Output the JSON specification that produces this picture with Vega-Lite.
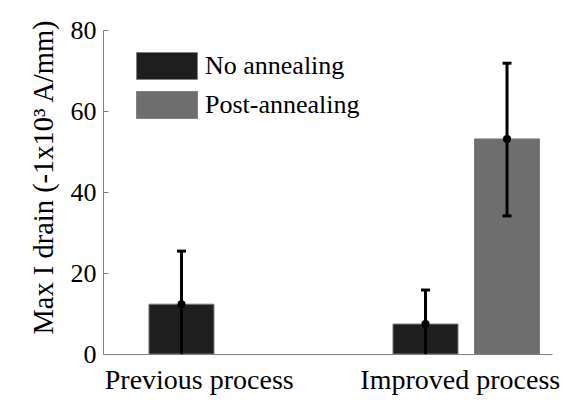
{
  "$schema": "https://vega.github.io/schema/vega-lite/v6.json",
  "width": 449,
  "height": 324,
  "autosize": "none",
  "padding": {"left": 103, "top": 30, "right": 27, "bottom": 59},
  "background": "white",
  "config": {
    "font": "Liberation Serif",
    "view": {"stroke": null},
    "axis": {"labelFont": "Liberation Serif", "titleFont": "Liberation Serif"},
    "legend": {"labelFont": "Liberation Serif", "titleFont": "Liberation Serif"}
  },
  "data": {
    "values": [
      {"process": "Previous process", "series": "No annealing", "value": 12.3, "lower": -0.8, "upper": 25.4},
      {"process": "Improved process", "series": "No annealing", "value": 7.4, "lower": -1.0, "upper": 15.8},
      {"process": "Improved process", "series": "Post-annealing", "value": 53.1, "lower": 34.1, "upper": 71.8}
    ]
  },
  "encoding": {
    "x": {
      "field": "process",
      "type": "nominal",
      "sort": ["Previous process", "Improved process"],
      "scale": {"paddingInner": 0.332, "paddingOuter": 0.086, "align": 0.899},
      "axis": {
        "title": null,
        "labelAngle": 0,
        "labelFont": "Liberation Serif",
        "labelFontSize": 28,
        "labelColor": "black",
        "labelPadding": 12,
        "labelLimit": 400,
        "ticks": false,
        "domainColor": "#808080",
        "domainWidth": 1,
        "labelOffset": {"condition": {"test": "datum.value === 'Previous process'", "value": -23}, "value": -6}
      }
    },
    "xOffset": {
      "field": "series",
      "type": "nominal",
      "scale": {"domain": ["No annealing", "Post-annealing"], "paddingInner": 0.2025, "paddingOuter": 0.101}
    }
  },
  "layer": [
    {
      "mark": {"type": "bar", "stroke": "#7a7a7a", "strokeWidth": 1},
      "encoding": {
        "y": {
          "field": "value",
          "type": "quantitative",
          "scale": {"domain": [0, 80], "nice": false},
          "axis": {
            "title": "Max I drain (-1x10³ A/mm)",
            "titleFont": "Liberation Serif",
            "titleFontSize": 28.5,
            "titleFontWeight": "normal",
            "titleColor": "black",
            "titlePadding": 12,
            "titleY": 147,
            "values": [0, 20, 40, 60, 80],
            "labelFont": "Liberation Serif",
            "labelFontSize": 26,
            "labelColor": "black",
            "labelPadding": 12,
            "tickSize": -5,
            "tickColor": "#808080",
            "domainColor": "#808080",
            "grid": false
          }
        },
        "color": {
          "field": "series",
          "type": "nominal",
          "scale": {"domain": ["No annealing", "Post-annealing"], "range": ["#1e1e1e", "#6e6e6e"]},
          "legend": {
            "orient": "none",
            "legendX": 50,
            "legendY": 22,
            "title": null,
            "symbolType": "M-2.26,-1H2.26V1H-2.26Z",
            "symbolSize": 729,
            "labelFont": "Liberation Serif",
            "labelFontSize": 26,
            "labelOffset": 24,
            "rowPadding": 7,
            "symbolStrokeColor": "#808080",
            "symbolStrokeWidth": 1,
            "symbolOpacity": 1,
            "labelColor": "black",
            "labelLimit": 400
          }
        }
      }
    },
    {
      "mark": {"type": "rule", "strokeWidth": 3, "color": "black", "clip": true},
      "encoding": {"y": {"field": "lower", "type": "quantitative"}, "y2": {"field": "upper"}}
    },
    {
      "mark": {"type": "tick", "orient": "horizontal", "size": 9, "thickness": 3, "color": "black", "opacity": 1, "clip": true},
      "encoding": {"y": {"field": "upper", "type": "quantitative"}}
    },
    {
      "mark": {"type": "tick", "orient": "horizontal", "size": 9, "thickness": 3, "color": "black", "opacity": 1, "clip": true},
      "encoding": {"y": {"field": "lower", "type": "quantitative"}}
    },
    {
      "mark": {"type": "point", "filled": true, "size": 65, "color": "black", "opacity": 1},
      "encoding": {"y": {"field": "value", "type": "quantitative"}}
    }
  ]
}
